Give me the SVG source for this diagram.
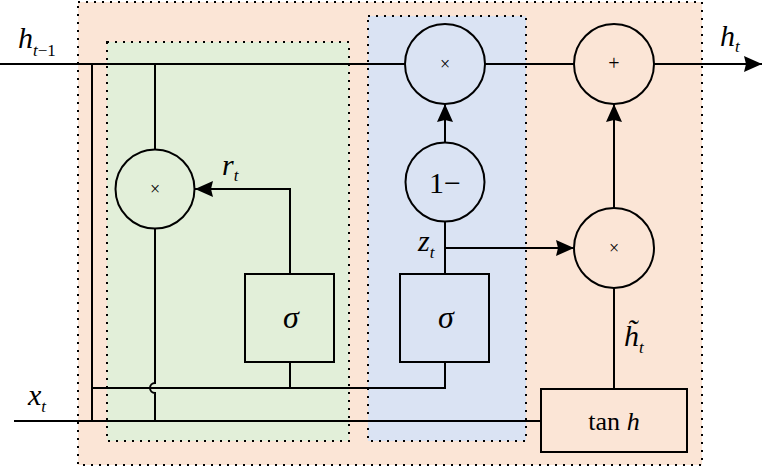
<svg xmlns="http://www.w3.org/2000/svg" width="767" height="467" viewBox="0 0 767 467">
<defs>
<marker id="arr" viewBox="0 0 18 16" refX="18" refY="8" markerWidth="18" markerHeight="16" markerUnits="userSpaceOnUse" orient="auto">
<path d="M0,0 L18,8 L0,16 L2,8 Z" fill="#000"/>
</marker>
<style>
.region{stroke:#000;stroke-width:2;stroke-dasharray:2 6}
.ln{fill:none;stroke:#000;stroke-width:2}
.node{stroke:#000;stroke-width:2}
.lbl{font-family:"Liberation Serif","Times New Roman",serif;font-style:italic;fill:#000}
.op{font-family:"Liberation Serif","Times New Roman",serif;fill:#000}
</style>
</defs>
<rect width="767" height="467" fill="#fff"/>
<rect id="outer" class="region" x="78" y="2" width="624" height="463" fill="#fbe5d6"/>
<rect id="reset-region" class="region" x="107" y="42" width="242" height="399" fill="#e2efd9"/>
<rect id="update-region" class="region" x="368" y="16" width="158" height="425" fill="#dae3f3"/>

<g id="connectors">
<path class="ln" d="M0,64 H405"/>
<path class="ln" d="M485,64 H574"/>
<path class="ln" d="M654,64 H762" marker-end="url(#arr)"/>
<path class="ln" d="M92,64 V421"/>
<path class="ln" d="M155,64 V150"/>
<path class="ln" d="M155,228 V383 A5,5 0 0 0 155,393 V421"/>
<path class="ln" d="M290,274 V189 H195" marker-end="url(#arr)"/>
<path class="ln" d="M92,388 H445 V362"/>
<path class="ln" d="M290,362 V388"/>
<path class="ln" d="M445,274 V222"/>
<path class="ln" d="M445,248 H574" marker-end="url(#arr)"/>
<path class="ln" d="M445,143 V104" marker-end="url(#arr)"/>
<path class="ln" d="M614,208 V104" marker-end="url(#arr)"/>
<path class="ln" d="M614,389 V288"/>
<path class="ln" d="M14,421 H541"/>
</g>

<g id="mul-reset"><circle class="node" cx="155" cy="189" r="39.5" fill="#e2efd9"/><text class="op" x="155" y="195" font-size="18" text-anchor="middle">×</text></g>
<g id="sigma-reset"><rect class="node" x="245" y="274" width="89" height="88" fill="#e2efd9"/><text class="lbl" x="291" y="328" font-size="32" text-anchor="middle">σ</text></g>
<g id="sigma-update"><rect class="node" x="400" y="274" width="89" height="88" fill="#dae3f3"/><text class="lbl" x="446" y="328" font-size="32" text-anchor="middle">σ</text></g>
<g id="one-minus"><circle class="node" cx="445" cy="182" r="39.5" fill="#dae3f3"/><text class="op" x="445" y="193" font-size="30" text-anchor="middle">1−</text></g>
<g id="mul-top"><circle class="node" cx="445" cy="64" r="40" fill="#dae3f3"/><text class="op" x="445" y="70" font-size="18" text-anchor="middle">×</text></g>
<g id="plus"><circle class="node" cx="614" cy="64" r="40" fill="#fbe5d6"/><text class="op" x="614" y="70" font-size="20" text-anchor="middle">+</text></g>
<g id="mul-cand"><circle class="node" cx="614" cy="248" r="40" fill="#fbe5d6"/><text class="op" x="614" y="254" font-size="18" text-anchor="middle">×</text></g>
<g id="tanh"><rect class="node" x="541" y="389" width="146" height="63" fill="#fbe5d6"/><text class="op" x="614" y="430" font-size="26" text-anchor="middle">tan <tspan font-style="italic">h</tspan></text></g>

<g id="labels">
<text class="lbl" x="18" y="48" font-size="30">h<tspan font-size="17" dy="8">t</tspan><tspan font-size="17" font-style="normal">−1</tspan></text>
<text class="lbl" x="720" y="46" font-size="30">h<tspan font-size="17" dy="6">t</tspan></text>
<text class="lbl" x="28" y="405" font-size="30">x<tspan font-size="17" dy="7">t</tspan></text>
<text class="lbl" x="222" y="175" font-size="30">r<tspan font-size="17" dy="6">t</tspan></text>
<text class="lbl" x="418" y="251" font-size="30">z<tspan font-size="17" dy="7">t</tspan></text>
<text class="lbl" x="624" y="346" font-size="30">h̃<tspan font-size="17" dy="7">t</tspan></text>
</g>
</svg>
